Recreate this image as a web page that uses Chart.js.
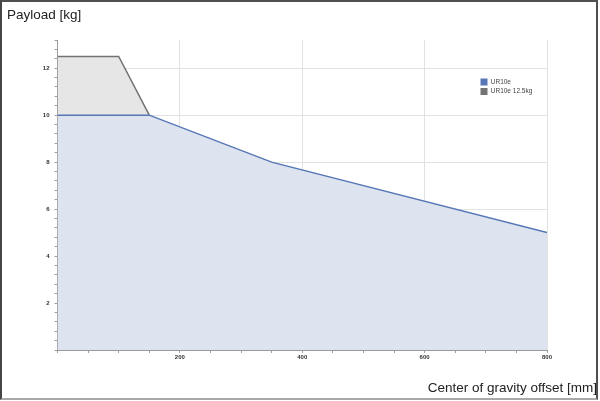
<!DOCTYPE html>
<html>
<head>
<meta charset="utf-8">
<script src="https://cdn.jsdelivr.net/npm/chart.js@4.4.1/dist/chart.umd.min.js"></script>
<style>
  html, body { margin: 0; padding: 0; background: #fff; }
  #wrap { position: relative; width: 600px; height: 401px; }
  #frame { position: absolute; left: 0; top: 0; width: 594px; height: 396px;
    border-style: solid; border-width: 2px; border-color: #505050 #505050 #a8a8a8 #454545;
    pointer-events: none; }
</style>
</head>
<body>
<div id="wrap">
  <canvas id="c" width="600" height="401"></canvas>
  <div id="frame"></div>
</div>
<script>
// ---- data ----
const offsetsUR10e = [0, 150, 350, 800];
const payloadUR10e = [10, 10, 8, 5];
const offsetsUR10e125 = [0, 100, 150];
const payloadUR10e125 = [12.5, 12.5, 10];
const seriesNames = ['UR10e', 'UR10e 12.5kg'];
const xTickLabels = [200, 400, 600, 800];
const yTickLabels = [2, 4, 6, 8, 10, 12];
const xTitle = 'Center of gravity offset [mm]';
const yTitle = 'Payload [kg]';

const FONT = "'Liberation Sans', Arial, sans-serif";
const toPts = (xs, ys) => xs.map((x, i) => ({ x: x, y: ys[i] }));
const isMajor = (list, v) => list.some(t => Math.abs(t - v) < 1e-6);

const legendMover = {
  id: 'legendMover',
  afterLayout(chart) {
    const lg = chart.legend;
    if (!lg) return;
    lg.left = 478;
    lg.top = 76;
    lg.right = lg.left + lg.width;
    lg.bottom = lg.top + 60;
  }
};

new Chart(document.getElementById('c'), {
  type: 'line',
  data: {
    datasets: [
      {
        label: seriesNames[0],
        data: toPts(offsetsUR10e, payloadUR10e),
        borderColor: '#5676b6',
        backgroundColor: '#dde4ef',
        borderWidth: 1.5,
        fill: 'origin',
        pointRadius: 0,
        tension: 0
      },
      {
        label: seriesNames[1],
        data: toPts(offsetsUR10e125, payloadUR10e125),
        borderColor: '#737373',
        backgroundColor: '#e6e6e6',
        borderWidth: 1.5,
        fill: 'origin',
        pointRadius: 0,
        tension: 0
      }
    ]
  },
  options: {
    responsive: false,
    animation: false,
    events: [],
    layout: { padding: { left: 7, right: 3, top: 0, bottom: 0 } },
    scales: {
      x: {
        type: 'linear',
        min: 0, max: 800,
        afterFit: s => { s.height = 27.9; },
        ticks: {
          stepSize: 50, autoSkip: false, maxRotation: 0,
          padding: 1,
          font: { family: FONT, size: 6, weight: 'bold' },
          color: '#333',
          callback: v => isMajor(xTickLabels, v) ? String(v) : ''
        },
        grid: {
          color: ctx => (ctx.tick && isMajor(xTickLabels, ctx.tick.value)) ? '#e2e2e2' : 'rgba(0,0,0,0)',
          tickColor: '#a0a0a0',
          tickLength: 3,
          lineWidth: 1
        },
        border: { color: '#9a9a9a', width: 1 }
      },
      y: {
        type: 'linear',
        min: 0, max: 13.2,
        afterFit: s => { s.width = 50.5; },
        ticks: {
          stepSize: 0.4, autoSkip: false,
          padding: 5,
          font: { family: FONT, size: 6, weight: 'bold' },
          color: '#333',
          callback: v => {
            const r = Math.round(v * 10) / 10;
            return isMajor(yTickLabels, r) ? String(r) : '';
          }
        },
        grid: {
          color: ctx => (ctx.tick && isMajor(yTickLabels, Math.round(ctx.tick.value * 10) / 10)) ? '#e2e2e2' : 'rgba(0,0,0,0)',
          tickColor: '#a0a0a0',
          tickLength: 3,
          lineWidth: 1
        },
        border: { color: '#9a9a9a', width: 1 }
      },
      r: {
        type: 'linear',
        position: 'right',
        display: true,
        afterFit: s => { s.width = 50; },
        ticks: { display: false },
        grid: { display: false },
        border: { display: false }
      }
    },
    plugins: {
      title: {
        display: true,
        text: yTitle,
        align: 'start',
        color: '#222',
        font: { family: FONT, size: 13.5, weight: 'normal' },
        padding: { top: 6.8, bottom: 17 }
      },
      subtitle: {
        display: true,
        text: xTitle,
        position: 'bottom',
        align: 'end',
        color: '#222',
        font: { family: FONT, size: 13.5, weight: 'normal' },
        padding: { top: 2, bottom: 4.9 }
      },
      legend: {
        position: 'chartArea',
        align: 'start',
        labels: {
          boxWidth: 7,
          boxHeight: 7,
          padding: 2.5,
          color: '#444',
          font: { family: FONT, size: 6.5 },
          generateLabels: chart => chart.data.datasets.map((ds, i) => ({
            text: ds.label,
            fillStyle: ds.borderColor,
            strokeStyle: ds.borderColor,
            lineWidth: 0,
            hidden: false,
            datasetIndex: i,
            fontColor: '#444'
          }))
        }
      },
      tooltip: { enabled: false }
    }
  },
  plugins: [legendMover]
});
</script>
</body>
</html>
